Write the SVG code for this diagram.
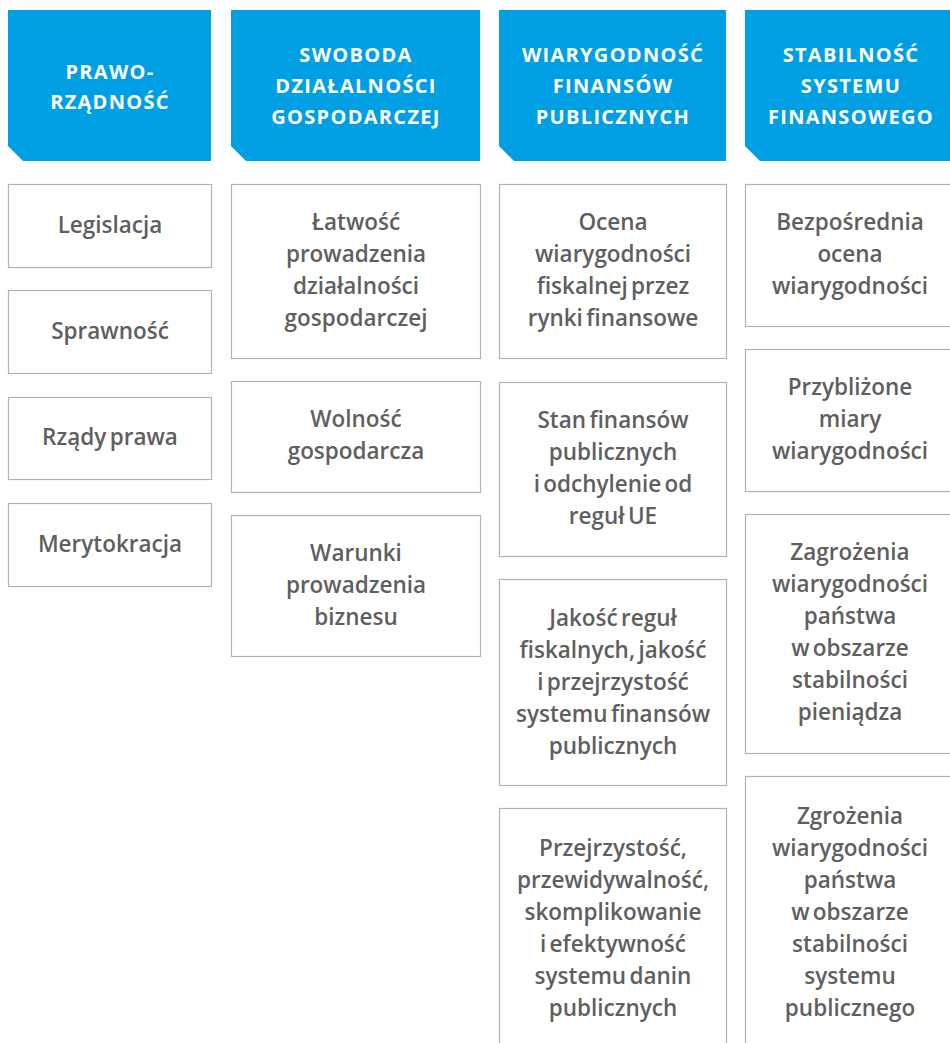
<svg xmlns="http://www.w3.org/2000/svg" width="950" height="1043" viewBox="0 0 950 1043">
  <style>
    .head { fill: #009fe3; }
    .box { fill: #ffffff; stroke: #b2b2b2; stroke-width: 1.2; }
    .ht { font-family: "Open Sans", "Liberation Sans", sans-serif; font-weight: 700; font-size: 20px; letter-spacing: 1.3px; fill: #ffffff; text-anchor: middle; }
    .bt { font-family: "Open Sans", "Liberation Sans", sans-serif; font-weight: 600; font-size: 22.5px; word-spacing: -2.5px; fill: #5f5f5f; text-anchor: middle; }
  </style>
  <rect width="950" height="1043" fill="#ffffff"/>

  <!-- column headers: blue panels with a clipped lower-left corner -->
  <g id="h-prawo">
    <polygon class="head" points="8,10 211,10 211,161 23,161 8,146"/>
    <text class="ht"><tspan x="110" y="78.5">PRAWO-</tspan><tspan x="110" y="108.5">RZĄDNOŚĆ</tspan></text>
  </g>
  <g id="h-swoboda">
    <polygon class="head" points="231,10 480,10 480,161 246,161 231,146"/>
    <text class="ht"><tspan x="356" y="62">SWOBODA</tspan><tspan x="356" y="93">DZIAŁALNOŚCI</tspan><tspan x="356" y="124">GOSPODARCZEJ</tspan></text>
  </g>
  <g id="h-wiarygodnosc">
    <polygon class="head" points="499,10 726,10 726,161 514,161 499,146"/>
    <text class="ht"><tspan x="613" y="62">WIARYGODNOŚĆ</tspan><tspan x="613" y="93">FINANSÓW</tspan><tspan x="613" y="124">PUBLICZNYCH</tspan></text>
  </g>
  <g id="h-stabilnosc">
    <polygon class="head" points="745,10 956,10 956,161 760,161 745,146"/>
    <text class="ht"><tspan x="851" y="62">STABILNOŚĆ</tspan><tspan x="851" y="93">SYSTEMU</tspan><tspan x="851" y="124">FINANSOWEGO</tspan></text>
  </g>

  <!-- column 1 -->
  <g id="n-legislacja">
    <rect class="box" x="8.5" y="184.5" width="203" height="83"/>
    <text class="bt" x="110" y="233">Legislacja</text>
  </g>
  <g id="n-sprawnosc">
    <rect class="box" x="8.5" y="290.5" width="203" height="83"/>
    <text class="bt" x="110" y="339">Sprawność</text>
  </g>
  <g id="n-rzady">
    <rect class="box" x="8.5" y="397.5" width="203" height="82"/>
    <text class="bt" x="110" y="445">Rządy prawa</text>
  </g>
  <g id="n-merytokracja">
    <rect class="box" x="8.5" y="503.5" width="203" height="83"/>
    <text class="bt" x="110" y="552">Merytokracja</text>
  </g>

  <!-- column 2 -->
  <g id="n-latwosc">
    <rect class="box" x="231.5" y="184.5" width="249" height="174"/>
    <text class="bt"><tspan x="356" y="230">Łatwość</tspan><tspan x="356" y="262">prowadzenia</tspan><tspan x="356" y="294">działalności</tspan><tspan x="356" y="326">gospodarczej</tspan></text>
  </g>
  <g id="n-wolnosc">
    <rect class="box" x="231.5" y="381.5" width="249" height="111"/>
    <text class="bt"><tspan x="356" y="427">Wolność</tspan><tspan x="356" y="459">gospodarcza</tspan></text>
  </g>
  <g id="n-warunki">
    <rect class="box" x="231.5" y="515.5" width="249" height="141"/>
    <text class="bt"><tspan x="356" y="561">Warunki</tspan><tspan x="356" y="593">prowadzenia</tspan><tspan x="356" y="625">biznesu</tspan></text>
  </g>

  <!-- column 3 -->
  <g id="n-ocena">
    <rect class="box" x="499.5" y="184.5" width="227" height="174"/>
    <text class="bt"><tspan x="613" y="230">Ocena</tspan><tspan x="613" y="262">wiarygodności</tspan><tspan x="613" y="294">fiskalnej przez</tspan><tspan x="613" y="326">rynki finansowe</tspan></text>
  </g>
  <g id="n-stan">
    <rect class="box" x="499.5" y="382.5" width="227" height="174"/>
    <text class="bt"><tspan x="613" y="428">Stan finansów</tspan><tspan x="613" y="460">publicznych</tspan><tspan x="613" y="492">i odchylenie od</tspan><tspan x="613" y="524">reguł UE</tspan></text>
  </g>
  <g id="n-jakosc">
    <rect class="box" x="499.5" y="579.5" width="227" height="206"/>
    <text class="bt"><tspan x="613" y="626">Jakość reguł</tspan><tspan x="613" y="658">fiskalnych, jakość</tspan><tspan x="613" y="690">i przejrzystość</tspan><tspan x="613" y="722">systemu finansów</tspan><tspan x="613" y="754">publicznych</tspan></text>
  </g>
  <g id="n-przejrzystosc">
    <rect class="box" x="499.5" y="808.5" width="227" height="241"/>
    <text class="bt"><tspan x="613" y="856">Przejrzystość,</tspan><tspan x="613" y="888">przewidywalność,</tspan><tspan x="613" y="920">skomplikowanie</tspan><tspan x="613" y="952">i efektywność</tspan><tspan x="613" y="984">systemu danin</tspan><tspan x="613" y="1016">publicznych</tspan></text>
  </g>

  <!-- column 4 -->
  <g id="n-bezposrednia">
    <rect class="box" x="745.5" y="184.5" width="211" height="142"/>
    <text class="bt"><tspan x="850" y="230">Bezpośrednia</tspan><tspan x="850" y="262">ocena</tspan><tspan x="850" y="294">wiarygodności</tspan></text>
  </g>
  <g id="n-przyblizone">
    <rect class="box" x="745.5" y="349.5" width="211" height="142"/>
    <text class="bt"><tspan x="850" y="395">Przybliżone</tspan><tspan x="850" y="427">miary</tspan><tspan x="850" y="459">wiarygodności</tspan></text>
  </g>
  <g id="n-zagrozenia">
    <rect class="box" x="745.5" y="514.5" width="211" height="239"/>
    <text class="bt"><tspan x="850" y="560">Zagrożenia</tspan><tspan x="850" y="592">wiarygodności</tspan><tspan x="850" y="624">państwa</tspan><tspan x="850" y="656">w obszarze</tspan><tspan x="850" y="688">stabilności</tspan><tspan x="850" y="720">pieniądza</tspan></text>
  </g>
  <g id="n-zgrozenia">
    <rect class="box" x="745.5" y="776.5" width="211" height="274"/>
    <text class="bt"><tspan x="850" y="824">Zgrożenia</tspan><tspan x="850" y="856">wiarygodności</tspan><tspan x="850" y="888">państwa</tspan><tspan x="850" y="920">w obszarze</tspan><tspan x="850" y="952">stabilności</tspan><tspan x="850" y="984">systemu</tspan><tspan x="850" y="1016">publicznego</tspan></text>
  </g>

  <!-- no connectors in this chart -->
  <g id="connectors"/>
</svg>
